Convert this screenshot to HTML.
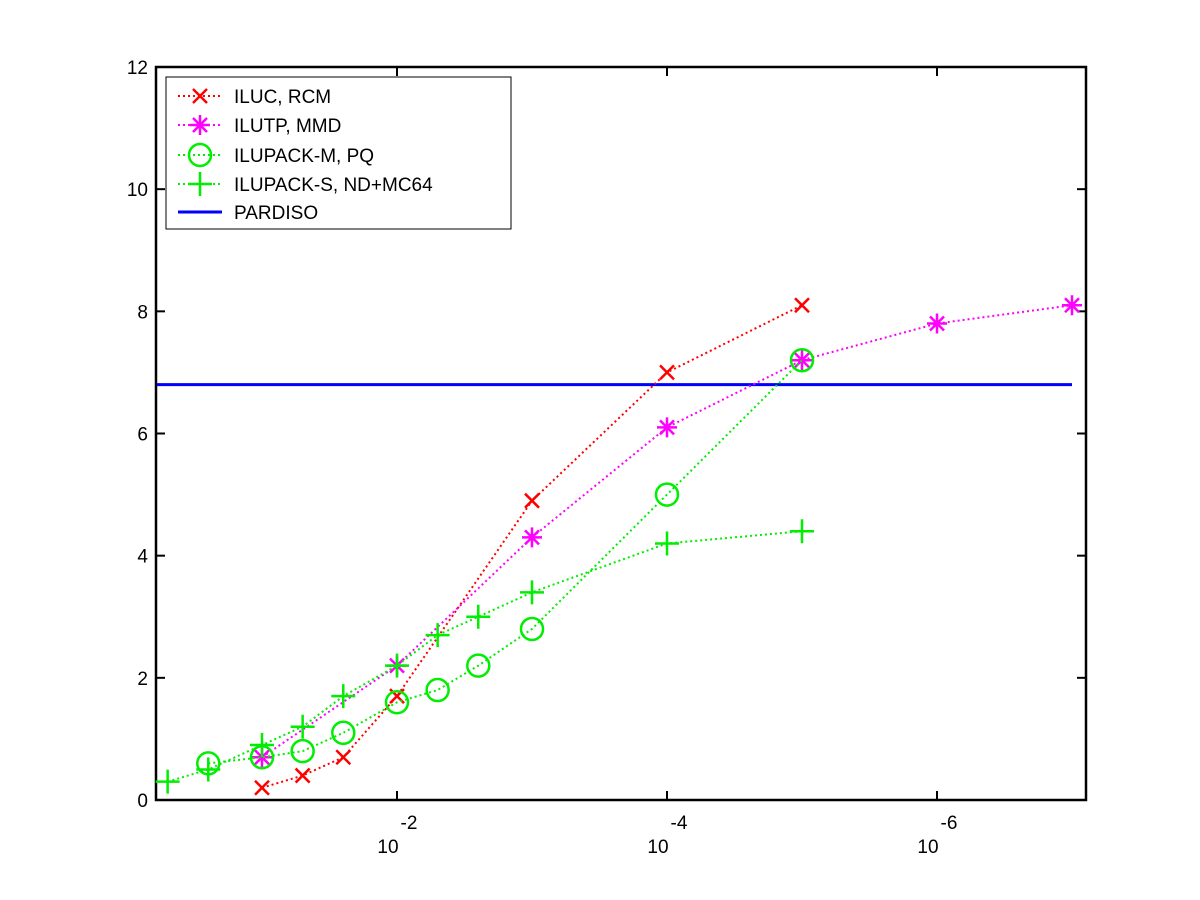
<!DOCTYPE html>
<html><head><meta charset="utf-8"><style>
html,body{margin:0;padding:0;background:#fff;}
svg{display:block;font-family:"Liberation Sans",sans-serif;}
</style></head><body>
<svg id="chart" width="1200" height="900" xmlns="http://www.w3.org/2000/svg">
<rect x="0" y="0" width="1200" height="900" fill="#fff"/>
<g id="plot"></g>
</svg>
<script>
const yTicks=[0,2,4,6,8,10,12];
const xTickExps=[-2,-4,-6];
const xTickLabels=["10","10","10"];
const xTickSup=["-2","-4","-6"];
const ilucTol=[1e-1,0.05,0.025,1e-2,1e-3,1e-4,1e-5];
const ilucVal=[0.2,0.4,0.7,1.7,4.9,7.0,8.1];
const ilutpTol=[1e-1,1e-2,1e-3,1e-4,1e-5,1e-6,1e-7];
const ilutpVal=[0.7,2.2,4.3,6.1,7.2,7.8,8.1];
const ilupMTol=[0.25,1e-1,0.05,0.025,1e-2,0.005,0.0025,1e-3,1e-4,1e-5];
const ilupMVal=[0.6,0.7,0.8,1.1,1.6,1.8,2.2,2.8,5.0,7.2];
const ilupSTol=[0.5,0.25,1e-1,0.05,0.025,1e-2,0.005,0.0025,1e-3,1e-4,1e-5];
const ilupSVal=[0.3,0.5,0.9,1.2,1.7,2.2,2.7,3.0,3.4,4.2,4.4];
const pardisoVal=6.8;
const pardisoRange=[0.6,1e-7];
const legendLabels=["ILUC, RCM","ILUTP, MMD","ILUPACK-M, PQ","ILUPACK-S, ND+MC64","PARDISO"];

const NS="http://www.w3.org/2000/svg";
const L=156,R=1086,T=67,B=800;
const xs=t=>397+(-2-Math.log10(t))*135;
const xe=e=>397+(-2-e)*135;
const ys=v=>B-(v/12)*(B-T);
const g=document.getElementById('plot');
function mk(tag,attrs,parent){const e=document.createElementNS(NS,tag);for(const k in attrs)e.setAttribute(k,attrs[k]);(parent||g).appendChild(e);return e;}

// axes box
let box=mk('rect',{x:L,y:T,width:R-L,height:B-T,fill:'none',stroke:'#000','stroke-width':2.5});


yTicks.forEach(v=>{
  const y=ys(v);
  let t1=mk('line',{x1:L,x2:L+9,y1:y,y2:y,stroke:'#000','stroke-width':2});
  
  
  let t2=mk('line',{x1:R-9,x2:R,y1:y,y2:y,stroke:'#000','stroke-width':2});
  
  
  let tx=mk('text',{x:L-8,y:y+7,'text-anchor':'end','font-size':19});
  tx.textContent=v;
  
  
});
xTickExps.forEach((e,i)=>{
  const x=xe(e);
  let t1=mk('line',{x1:x,x2:x,y1:B,y2:B-9,stroke:'#000','stroke-width':2});
  
  
  let t2=mk('line',{x1:x,x2:x,y1:T,y2:T+9,stroke:'#000','stroke-width':2});
  
  
  let s=mk('text',{x:x+12,y:829,'text-anchor':'middle','font-size':19});
  s.textContent=xTickSup[i];
  
  
  let b=mk('text',{x:x-9,y:853,'text-anchor':'middle','font-size':19});
  b.textContent=xTickLabels[i];
  
  
});

function marker(type,x,y,c,parent){
  if(type==='x'){
    const p=mk('path',{d:`M${x-7} ${y-7}L${x+7} ${y+7}M${x-7} ${y+7}L${x+7} ${y-7}`,stroke:c,'stroke-width':2.5,fill:'none'},parent);return p;}
  if(type==='*'){
    const p=mk('path',{d:`M${x-10} ${y}L${x+10} ${y}M${x} ${y-10}L${x} ${y+10}M${x-7} ${y-7}L${x+7} ${y+7}M${x-7} ${y+7}L${x+7} ${y-7}`,stroke:c,'stroke-width':2.5,fill:'none'},parent);return p;}
  if(type==='o'){return mk('circle',{cx:x,cy:y,r:11,stroke:c,'stroke-width':2.5,fill:'none'},parent);}
  if(type==='+'){
    const p=mk('path',{d:`M${x-12} ${y}L${x+12} ${y}M${x} ${y-12}L${x} ${y+12}`,stroke:c,'stroke-width':2.5,fill:'none'},parent);return p;}
}
function series(tol,val,c,type,name){
  const sg=mk('g',{});
  
  
  const pts=tol.map((t,i)=>xs(t)+','+ys(val[i])).join(' ');
  let pl=mk('polyline',{points:pts,fill:'none',stroke:c,'stroke-width':2,'stroke-dasharray':'2,3'},sg);
  
  
  tol.forEach((t,i)=>{
    const m=marker(type,xs(t),ys(val[i]),c,sg);
    
    
  });
}
let pd=mk('line',{x1:xs(pardisoRange[0]),x2:xs(pardisoRange[1]),y1:ys(pardisoVal),y2:ys(pardisoVal),stroke:'#0000ff','stroke-width':3});


series(ilucTol,ilucVal,'#ff0000','x','iluc-rcm');
series(ilutpTol,ilutpVal,'#ff00ff','*','ilutp-mmd');
series(ilupMTol,ilupMVal,'#00ee00','o','ilupack-m');
series(ilupSTol,ilupSVal,'#00ee00','+','ilupack-s');

// legend
const lg=mk('g',{});


let lb=mk('rect',{x:166,y:77,width:345,height:152,fill:'#fff',stroke:'#000','stroke-width':1},lg);


const lc=['#ff0000','#ff00ff','#00ee00','#00ee00','#0000ff'];
const lt=['x','*','o','+',null];
const ly=[96,125,155,184,212];
legendLabels.forEach((lab,i)=>{
  const eg=mk('g',{},lg);
  
  
  const y=ly[i];
  if(lt[i]){mk('line',{x1:178,x2:222,y1:y,y2:y,stroke:lc[i],'stroke-width':2,'stroke-dasharray':'2,3'},eg);marker(lt[i],200,y,lc[i],eg);}
  else mk('line',{x1:178,x2:222,y1:y,y2:y,stroke:lc[i],'stroke-width':3},eg);
  const t=mk('text',{x:207,y:y+7,'font-size':19},eg);
  t.textContent=lab;
  t.setAttribute('x',234);
});
</script>
</body></html>
